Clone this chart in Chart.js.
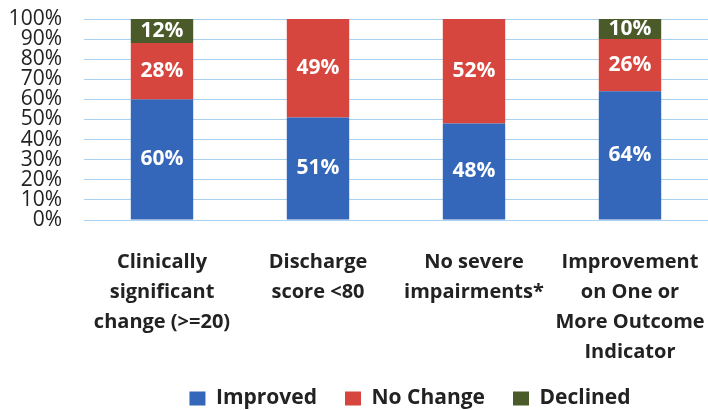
<!DOCTYPE html>
<html>
<head>
<meta charset="utf-8">
<script src="https://cdn.jsdelivr.net/npm/chart.js@4.4.0/dist/chart.umd.min.js"></script>
<style>
  html, body { margin: 0; padding: 0; background: #fff; }
  #wrap { width: 708px; height: 410px; }
</style>
</head>
<body>
<div id="wrap"><canvas id="outcomeChart"></canvas></div>
<script>
// Chart data
const categories = [
  ['Clinically', 'significant', 'change (>=20)'],
  ['Discharge', 'score <80'],
  ['No severe', 'impairments*'],
  ['Improvement', 'on One or', 'More Outcome', 'Indicator']
];
const improved = [60, 51, 48, 64];
const noChange = [28, 49, 52, 26];
const declined = [12, 0, 0, 10];
const seriesNames = ['Improved', 'No Change', 'Declined'];
const seriesColors = ['#3467B9', '#D6463F', '#4A5A28'];

const FONT = "'Open Sans', 'DejaVu Sans', sans-serif";

// Small inline plugin: write the percentage in the middle of each segment
const segmentLabels = {
  id: 'segmentLabels',
  afterDatasetsDraw(chart) {
    const ctx = chart.ctx;
    ctx.save();
    ctx.font = 'bold 21px ' + FONT;
    ctx.fillStyle = '#ffffff';
    ctx.textAlign = 'center';
    ctx.textBaseline = 'middle';
    chart.data.datasets.forEach((ds, i) => {
      const meta = chart.getDatasetMeta(i);
      meta.data.forEach((bar, j) => {
        const v = ds.data[j];
        if (!v) return;
        const mid = (bar.y + bar.base) / 2;
        ctx.fillText(v + '%', bar.x, mid);
      });
    });
    ctx.restore();
  }
};

// The original legend sits a little right of the plot centre
const legendNudge = {
  id: 'legendNudge',
  afterLayout(chart) {
    if (!chart.legend) return;
    chart.legend.left += 14;
    chart.legend.right += 14;
  }
};

const chart = new Chart(document.getElementById('outcomeChart'), {
  type: 'bar',
  data: {
    labels: categories,
    datasets: [
      { label: seriesNames[0], data: improved, backgroundColor: seriesColors[0] },
      { label: seriesNames[1], data: noChange, backgroundColor: seriesColors[1] },
      { label: seriesNames[2], data: declined, backgroundColor: seriesColors[2] }
    ]
  },
  options: {
    responsive: true,
    maintainAspectRatio: false,
    animation: false,
    layout: { padding: { top: 19, right: 0, left: 0, bottom: 0 } },
    datasets: { bar: { barPercentage: 0.8, categoryPercentage: 0.5 } },
    scales: {
      x: {
        stacked: true,
        grid: { display: false },
        border: { display: false },
        ticks: {
          color: '#222',
          padding: 19,
          maxRotation: 0,
          autoSkip: false,
          font: { family: FONT, size: 20, weight: 'bold', lineHeight: 1.5 }
        },
        afterFit(scale) {
          scale.height = 140;
          // labels may run to the canvas edge, as in the original
          scale.paddingLeft = 0;
          scale.paddingRight = 0;
        }
      },
      y: {
        stacked: true,
        min: 0,
        max: 100,
        grid: { color: '#A9D1F0', drawTicks: true, tickLength: 22, tickColor: 'rgba(0,0,0,0)', lineWidth: 1 },
        border: { display: false },
        ticks: {
          stepSize: 10,
          autoSkip: false,
          color: '#222',
          padding: 0,
          font: { family: FONT, size: 21 },
          callback: v => v + '%'
        },
        afterFit(scale) { scale.width = 84; }
      }
    },
    plugins: {
      legend: {
        position: 'bottom',
        fullSize: false,
        maxHeight: 50,
        labels: {
          color: '#222',
          boxWidth: 16,
          boxHeight: 14,
          padding: 28,
          font: { family: FONT, size: 21, weight: 'bold' }
        }
      },
      tooltip: { enabled: false }
    }
  },
  plugins: [segmentLabels, legendNudge]
});
</script>
</body>
</html>
